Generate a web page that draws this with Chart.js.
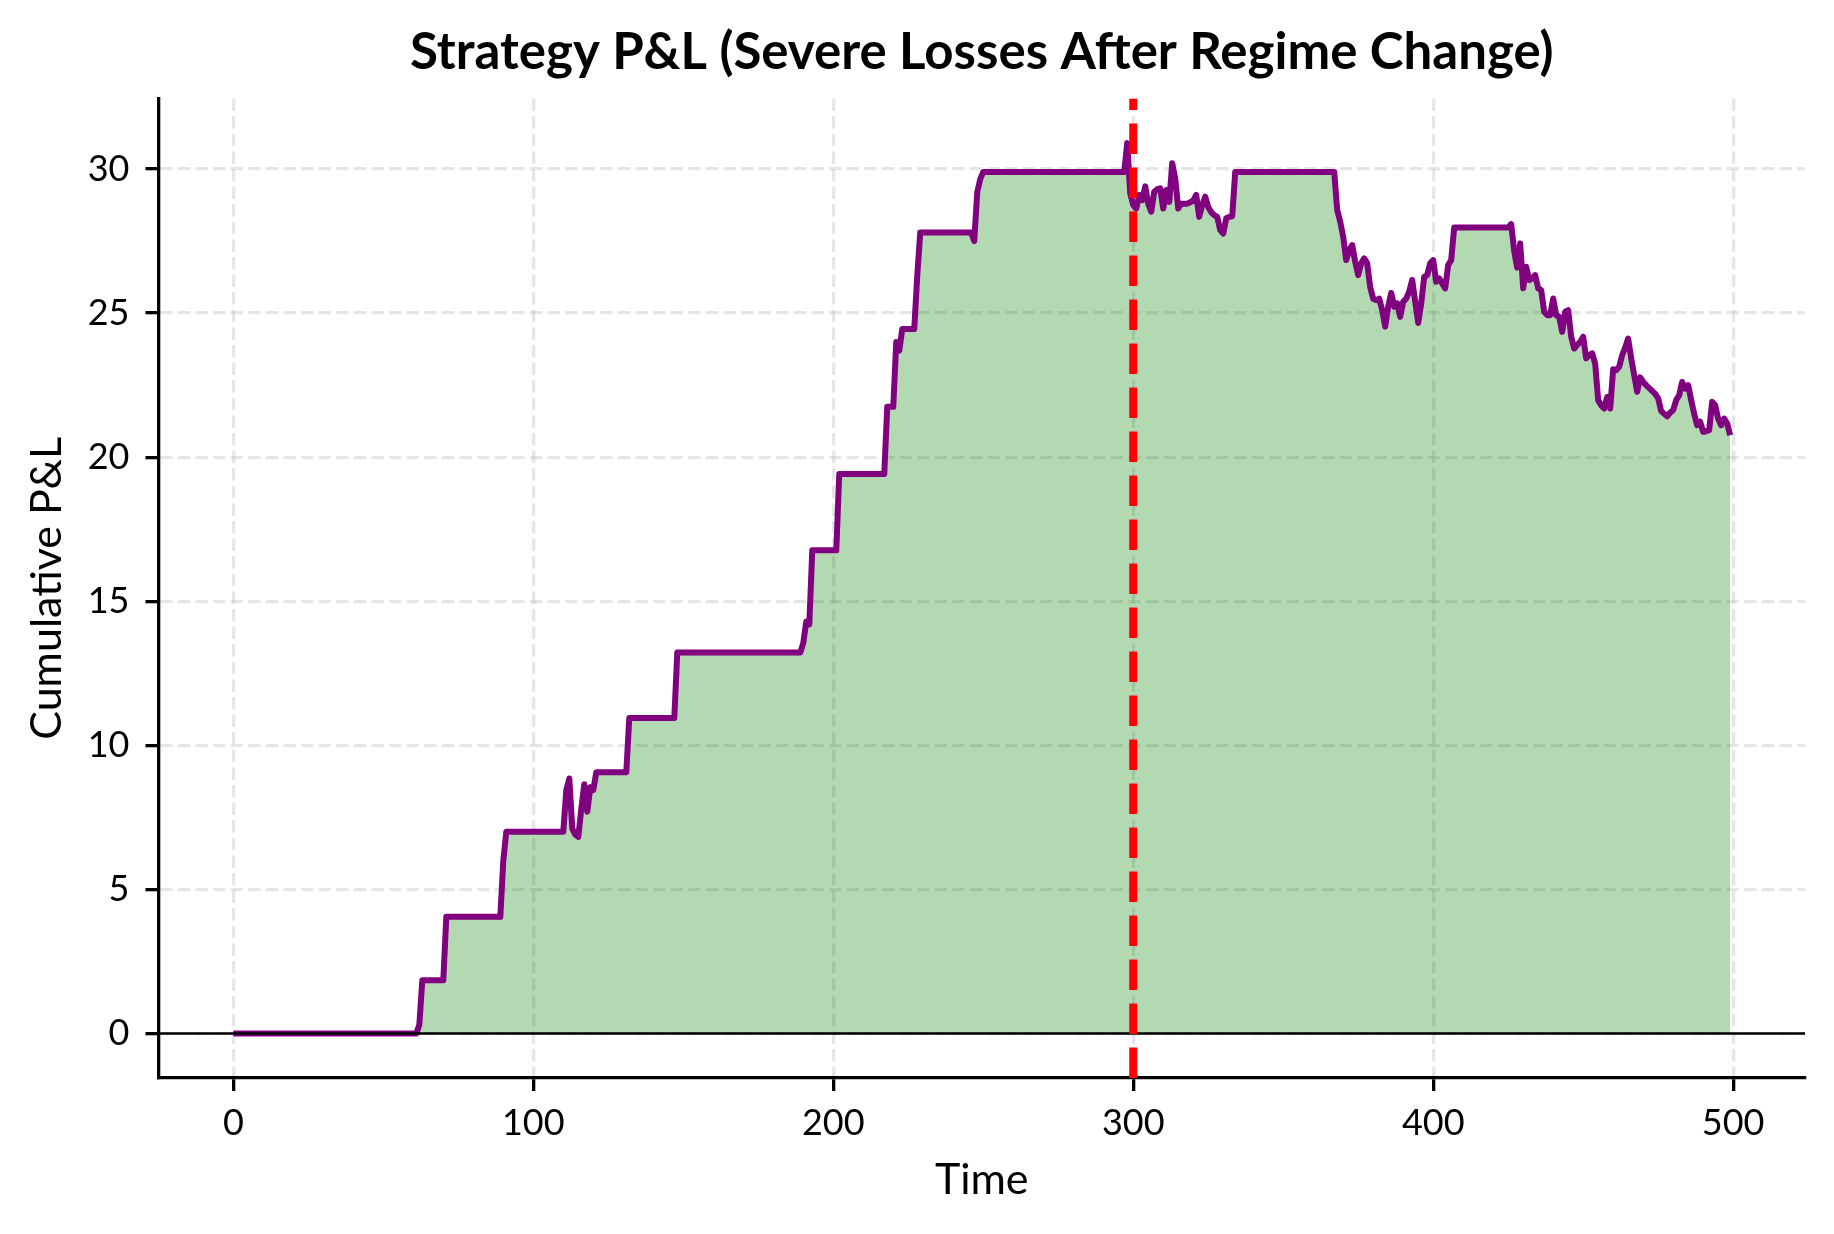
<!DOCTYPE html>
<html>
<head>
<meta charset="utf-8">
<script src="https://cdn.jsdelivr.net/npm/chart.js@4.4.1/dist/chart.umd.min.js"></script>
<style>
  html, body { margin: 0; padding: 0; background: #ffffff; }
  #wrap { width: 1834px; height: 1234px; }
  canvas { display: block; }
</style>
</head>
<body>
<div id="wrap"><canvas id="c" width="1834" height="1234" style="width:1834px;height:1234px"></canvas></div>
<script>
// ---- data ----
const TIMES = [
  0, 61, 62, 63, 70, 71, 89, 90, 91, 110,
  111, 112, 113, 114, 115, 116, 117, 118, 119, 120,
  121, 131, 132, 147, 148, 189, 190, 191, 192, 193,
  201, 202, 217, 218, 220, 221, 222, 223, 227, 228,
  229, 246, 247, 248, 249, 250, 297, 298, 299, 300,
  301, 302, 303, 304, 305, 306, 307, 308, 309, 310,
  311, 312, 313, 314, 315, 316, 317, 318, 319, 320,
  321, 322, 323, 324, 325, 326, 327, 328, 329, 330,
  331, 332, 333, 334, 367, 368, 369, 370, 371, 372,
  373, 374, 375, 376, 377, 378, 379, 380, 381, 382,
  383, 384, 385, 386, 387, 388, 389, 390, 391, 392,
  393, 394, 395, 396, 397, 398, 399, 400, 401, 402,
  403, 404, 405, 406, 407, 425, 426, 427, 428, 429,
  430, 431, 432, 433, 434, 435, 436, 437, 438, 439,
  440, 441, 442, 443, 444, 445, 446, 447, 448, 449,
  450, 451, 452, 453, 454, 455, 456, 457, 458, 459,
  460, 461, 462, 463, 464, 465, 466, 467, 468, 469,
  470, 471, 472, 473, 474, 475, 476, 477, 478, 479,
  480, 481, 482, 483, 484, 485, 486, 487, 488, 489,
  490, 491, 492, 493, 494, 495, 496, 497, 498, 499
];
const PNL = [
  0, 0, 0.3, 1.85, 1.85, 4.05, 4.05, 6.0, 7.0, 7.0,
  8.45, 8.85, 7.1, 6.9, 6.82, 7.8, 8.65, 7.7, 8.55, 8.45,
  9.07, 9.07, 10.95, 10.95, 13.22, 13.22, 13.55, 14.3, 14.2, 16.77,
  16.77, 19.42, 19.42, 21.75, 21.75, 24.0, 23.7, 24.45, 24.45, 26.3,
  27.8, 27.8, 27.5, 29.2, 29.65, 29.9, 29.9, 30.9, 29.15, 28.75,
  28.63, 29.1, 28.92, 29.4, 28.8, 28.52, 29.21, 29.3, 29.33, 28.63,
  29.27, 28.86, 30.2, 29.67, 28.63, 28.8, 28.8, 28.8, 28.85, 28.9,
  29.1, 28.34, 28.75, 29.04, 28.68, 28.5, 28.4, 28.34, 27.88, 27.76,
  28.29, 28.34, 28.36, 29.9, 29.9, 28.58, 28.17, 27.65, 26.84, 27.19,
  27.36, 26.78, 26.32, 26.73, 26.9, 26.73, 25.9, 25.5, 25.45, 25.5,
  25.1, 24.53, 25.22, 25.7, 25.22, 25.34, 24.87, 25.4, 25.5, 25.75,
  26.15, 25.4, 24.66, 25.34, 26.26, 26.32, 26.73, 26.84, 26.09, 26.2,
  26.03, 25.86, 26.67, 26.84, 27.97, 27.97, 28.09, 27.15, 26.58, 27.42,
  25.86, 26.61, 26.15, 26.2, 26.32, 25.86, 25.8, 25.05, 24.93, 24.93,
  25.51, 24.93, 24.87, 24.35, 25.05, 25.1, 24.18, 23.77, 23.9, 24.0,
  24.18, 23.43, 23.54, 23.6, 23.25, 21.98, 21.8, 21.69, 22.09, 21.69,
  23.05, 23.02, 23.14, 23.54, 23.8, 24.12, 23.43, 22.85, 22.27, 22.77,
  22.61, 22.5, 22.4, 22.3, 22.2, 22.04, 21.6, 21.51, 21.42, 21.55,
  21.63, 21.98, 22.15, 22.61, 22.38, 22.5, 21.98, 21.51, 21.11, 21.23,
  20.88, 20.9, 20.94, 21.92, 21.8, 21.34, 21.11, 21.34, 21.17, 20.76
];
const X_TICKS = [0, 100, 200, 300, 400, 500];
const Y_TICKS = [0, 5, 10, 15, 20, 25, 30];
const REGIME_CHANGE = 300;
const X_RANGE = [-24.95, 523.95];
const Y_RANGE = [-1.545, 32.445];
const TITLE = 'Strategy P&L (Severe Losses After Regime Change)';
const X_LABEL = 'Time';
const Y_LABEL = 'Cumulative P&L';

// ---- chart ----
const FONT = 'Lato';
const pnlPoints = TIMES.map((t, i) => ({ x: t, y: PNL[i] }));

new Chart(document.getElementById('c'), {
  type: 'line',
  data: {
    datasets: [
      {
        label: 'Regime change',
        data: [{ x: REGIME_CHANGE, y: Y_RANGE[0] }, { x: REGIME_CHANGE, y: Y_RANGE[1] }],
        borderColor: '#ff0000',
        borderWidth: 8,
        borderDash: [30.5, 13.5],
        pointRadius: 0,
        fill: false,
        tension: 0,
        order: 0
      },
      {
        label: 'Zero',
        data: [{ x: X_RANGE[0], y: 0 }, { x: X_RANGE[1], y: 0 }],
        borderColor: '#000000',
        borderWidth: 2.7,
        pointRadius: 0,
        fill: false,
        tension: 0,
        order: 1
      },
      {
        label: 'Cumulative P&L',
        data: pnlPoints,
        borderColor: '#800080',
        borderWidth: 6,
        borderJoinStyle: 'round',
        backgroundColor: 'rgba(0,128,0,0.3)',
        fill: { target: 'origin' },
        pointRadius: 0,
        tension: 0,
        order: 2
      }
    ]
  },
  options: {
    responsive: false,
    animation: false,
    devicePixelRatio: 1,
    events: [],
    layout: { padding: { left: 0, right: 29, top: 0, bottom: 0 } },
    plugins: {
      legend: { display: false },
      tooltip: { enabled: false },
      title: {
        display: true,
        text: TITLE,
        fullSize: false,
        color: '#000000',
        font: { family: FONT, size: 51, weight: 'bold' },
        padding: { top: 22.2, bottom: 15.2 }
      }
    },
    scales: {
      x: {
        type: 'linear',
        min: X_RANGE[0],
        max: X_RANGE[1],
        afterBuildTicks: (s) => { s.ticks = X_TICKS.map(v => ({ value: v })); },
        afterFit: (s) => { s.height = 156; },
        ticks: {
          autoSkip: false,
          maxRotation: 0,
          color: '#000000',
          font: { family: FONT, size: 36 },
          padding: 11,
          callback: (v) => String(v)
        },
        grid: {
          color: 'rgba(176,176,176,0.32)',
          lineWidth: 3.3,
          tickColor: '#000000',
          tickWidth: 3.3,
          tickLength: 13
        },
        border: { display: true, color: '#000000', width: 3.3, dash: [12.3, 5.3] },
        title: {
          display: true,
          text: X_LABEL,
          color: '#000000',
          font: { family: FONT, size: 43 },
          padding: { top: 0, bottom: 28 }
        }
      },
      y: {
        type: 'linear',
        min: Y_RANGE[0],
        max: Y_RANGE[1],
        afterBuildTicks: (s) => { s.ticks = Y_TICKS.map(v => ({ value: v })); },
        afterFit: (s) => { s.width = 158.5; },
        ticks: {
          color: '#000000',
          font: { family: FONT, size: 36 },
          padding: 16,
          callback: (v) => String(v)
        },
        grid: {
          color: 'rgba(176,176,176,0.32)',
          lineWidth: 3.3,
          tickColor: '#000000',
          tickWidth: 3.3,
          tickLength: 13
        },
        border: { display: true, color: '#000000', width: 3.3, dash: [12.3, 5.3] },
        title: {
          display: true,
          text: Y_LABEL,
          color: '#000000',
          font: { family: FONT, size: 43 },
          padding: { top: 21, bottom: 0 }
        }
      }
    }
  }
});
</script>
</body>
</html>
